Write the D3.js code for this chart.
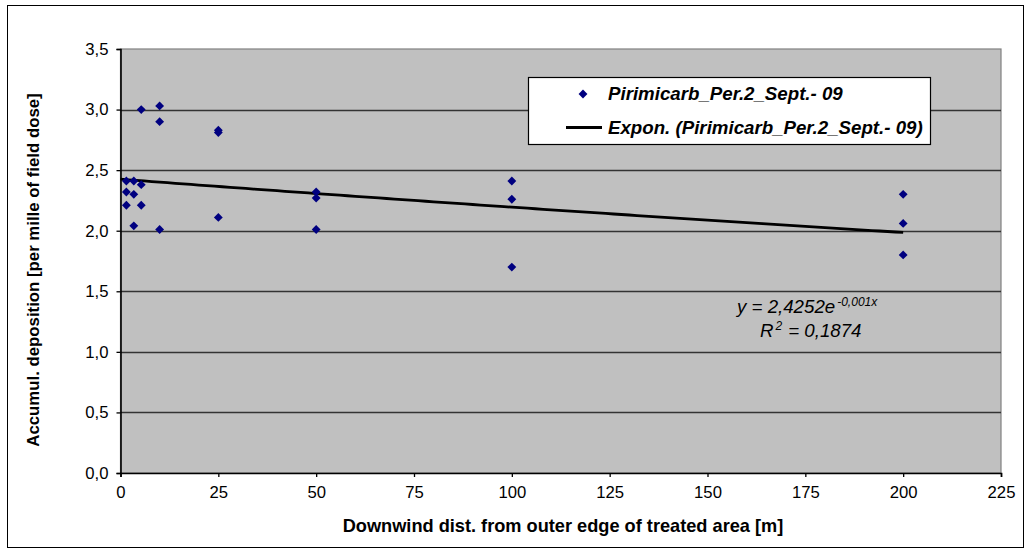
<!DOCTYPE html>
<html>
<head>
<meta charset="utf-8">
<script src="https://cdn.jsdelivr.net/npm/d3@7"></script>
<style>
  html, body { margin: 0; padding: 0; background: #fff; }
  svg { display: block; font-family: "Liberation Sans", Arial, sans-serif; }
</style>
</head>
<body>
<svg id="chart" width="1031" height="553"></svg>
<script>
// Measured deposits per sampling distance
const distances = [1.5, 1.5, 1.5, 3.4, 3.4, 3.4, 5.3, 5.3, 5.3, 10, 10, 10,
                   25, 25, 25, 50, 50, 50, 100, 100, 100, 200, 200, 200];
const deposits  = [2.41, 2.32, 2.21, 2.41, 2.30, 2.04, 3.00, 2.38, 2.21, 3.03, 2.90, 2.01,
                   2.83, 2.81, 2.11, 2.32, 2.27, 2.01, 2.41, 2.26, 1.70, 2.30, 2.06, 1.80];
const xTicks = [0, 25, 50, 75, 100, 125, 150, 175, 200, 225];
const yTicks = [0, 0.5, 1.0, 1.5, 2.0, 2.5, 3.0, 3.5];
// Exponential trend fit y = a * exp(b * x)
const fitA = 2.4252;
const fitB = -0.001;
const fitR2 = 0.1874;
const fitRange = [0, 200];
const seriesName = "Pirimicarb_Per.2_Sept.- 09";

const svg = d3.select("#chart");
const plot = { left: 120.5, top: 49, right: 1001, bottom: 473 };

const x = d3.scaleLinear().domain([0, 225]).range([plot.left, plot.right]);
const y = d3.scaleLinear().domain([0, 3.5]).range([plot.bottom, plot.top]);
const fmt = d => d3.format(".1f")(d).replace(".", ",");
const comma = v => String(v).replace(".", ",");

// Outer chart frame
svg.append("rect").attr("x", 7.5).attr("y", 5.5).attr("width", 1016).attr("height", 542)
  .attr("fill", "#fff").attr("stroke", "#000").attr("stroke-width", 1);

// Plot area
svg.append("rect").attr("x", plot.left).attr("y", plot.top)
  .attr("width", plot.right - plot.left).attr("height", plot.bottom - plot.top)
  .attr("fill", "#c0c0c0").attr("stroke", "#808080").attr("stroke-width", 1.2);

// Horizontal gridlines
svg.append("g").selectAll("line").data(yTicks.filter(d => d > 0 && d < 3.5)).join("line")
  .attr("x1", plot.left).attr("x2", plot.right)
  .attr("y1", d => Math.round(y(d)) + 0.5).attr("y2", d => Math.round(y(d)) + 0.5)
  .attr("stroke", "#333").attr("stroke-width", 1.4);

// Axes
const yAxis = svg.append("g").attr("transform", `translate(${plot.left},0)`)
  .call(d3.axisLeft(y).tickValues(yTicks).tickFormat(fmt).tickSize(4).tickPadding(8));
const xAxis = svg.append("g").attr("transform", `translate(0,${plot.bottom})`)
  .call(d3.axisBottom(x).tickValues(xTicks).tickFormat(d3.format("d")).tickSize(4).tickPadding(9));
[yAxis, xAxis].forEach(g => {
  g.select(".domain").attr("stroke", "#000").attr("stroke-width", 1.6);
  g.selectAll(".tick line").attr("stroke", "#000").attr("stroke-width", 1.3);
  g.selectAll(".tick text").attr("fill", "#000").style("font-size", "16.7px")
    .style("font-family", "'Liberation Sans', Arial, sans-serif");
});

// Trend line
const fitPts = d3.range(fitRange[0], fitRange[1] + 0.01, 2).map(v => [v, fitA * Math.exp(fitB * v)]);
svg.append("path").datum(fitPts)
  .attr("d", d3.line().x(d => x(d[0])).y(d => y(d[1])))
  .attr("fill", "none").attr("stroke", "#000").attr("stroke-width", 2.8);

// Data markers
const diamond = d3.symbol().type(d3.symbolDiamond2).size(50);
svg.append("g").selectAll("path").data(distances.map((d, i) => [d, deposits[i]])).join("path")
  .attr("transform", d => `translate(${x(d[0])},${y(d[1])})`)
  .attr("d", diamond).attr("fill", "#000080");

// Legend
const lg = svg.append("g");
const legendFont = 18.7;
const t1 = lg.append("text").attr("x", 608).attr("y", 100).text(seriesName)
  .style("font-size", legendFont + "px").style("font-weight", "bold").style("font-style", "italic");
const t2 = lg.append("text").attr("x", 608).attr("y", 134).text(`Expon. (${seriesName})`)
  .style("font-size", legendFont + "px").style("font-weight", "bold").style("font-style", "italic");
const textRight = Math.max(t1.node().getComputedTextLength(), t2.node().getComputedTextLength()) + 608;
lg.insert("rect", "text").attr("x", 528.5).attr("y", 77.5)
  .attr("width", Math.round(textRight + 8 - 528.5)).attr("height", 67)
  .attr("fill", "#fff").attr("stroke", "#000").attr("stroke-width", 1.2);
lg.append("path").attr("transform", "translate(583,94)").attr("d", diamond).attr("fill", "#000080");
lg.append("line").attr("x1", 566).attr("x2", 602).attr("y1", 127.5).attr("y2", 127.5)
  .attr("stroke", "#000").attr("stroke-width", 2.8);

// Fit equation
const eq = svg.append("text").attr("x", 737).attr("y", 313)
  .style("font-size", "18.7px").style("font-style", "italic");
eq.append("tspan").text("y = " + comma(fitA) + "e");
eq.append("tspan").attr("dx", 2).attr("dy", -7).style("font-size", "12px")
  .text(comma(fitB) + "x");
const r2 = svg.append("text").attr("x", 760).attr("y", 337)
  .style("font-size", "18.7px").style("font-style", "italic");
r2.append("tspan").text("R");
r2.append("tspan").attr("dx", 2).attr("dy", -7).style("font-size", "12px").text("2");
r2.append("tspan").attr("dx", 6).attr("dy", 7).text("= " + comma(fitR2));

// Axis titles
svg.append("text").attr("x", 563).attr("y", 532).attr("text-anchor", "middle")
  .style("font-size", "18.2px").style("font-weight", "bold")
  .text("Downwind dist. from outer edge of treated area [m]");
svg.append("text").attr("transform", "translate(39,270) rotate(-90)").attr("text-anchor", "middle")
  .style("font-size", "16.8px").style("font-weight", "bold")
  .text("Accumul. deposition [per mille of field dose]");
</script>
</body>
</html>
